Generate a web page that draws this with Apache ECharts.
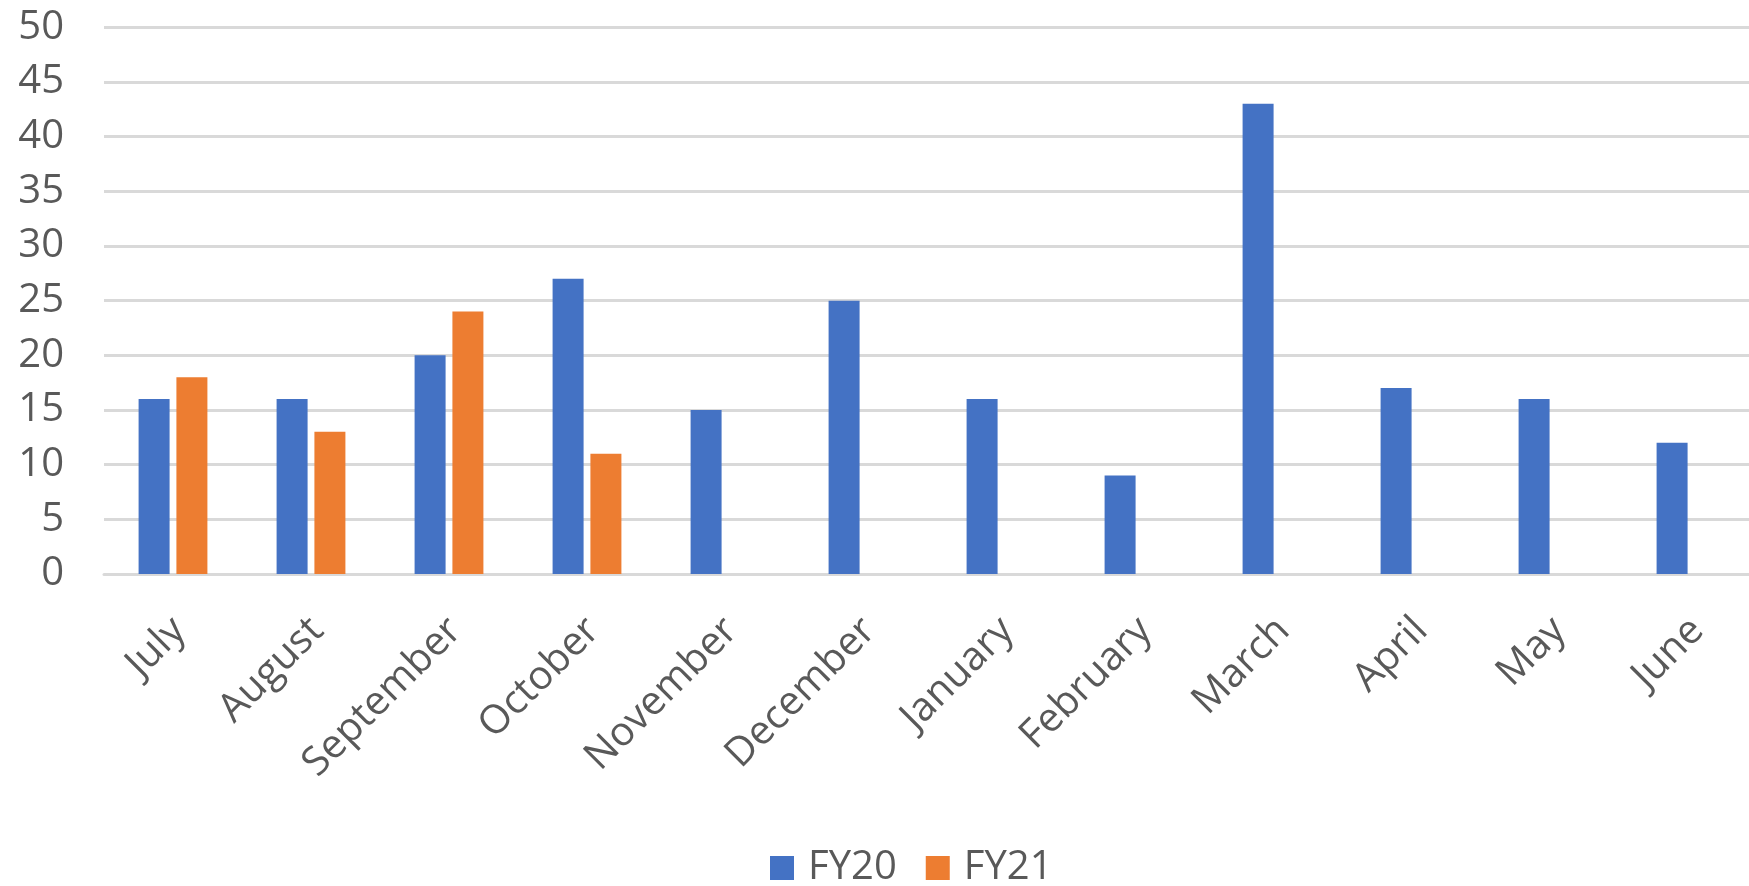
<!DOCTYPE html>
<html>
<head>
<meta charset="utf-8">
<script src="https://cdn.jsdelivr.net/npm/echarts@6/dist/echarts.min.js"></script>
<style>
html,body{margin:0;padding:0;background:#fff;}
#chart{width:1749px;height:886px;}
</style>
</head>
<body>
<div id="chart"></div>
<script>
const months = ["July","August","September","October","November","December","January","February","March","April","May","June"];
const fy20 = [16,16,20,27,15,25,16,9,43,17,16,12];
const fy21 = [18,13,24,11,null,null,null,null,null,null,null,null];
const yTicks = {min:0, max:50, interval:5};

const chart = echarts.init(document.getElementById('chart'), null, {renderer:'canvas'});
const font = '"Open Sans", "Liberation Sans", sans-serif';
chart.setOption({
  animation:false,
  backgroundColor:'#ffffff',
  textStyle:{fontFamily:font},
  grid:{left:104, top:27.3, width:1656, height:546.7, containLabel:false, outerBoundsMode:'none'},
  legend:{
    data:['FY20','FY21'],
    left:765, top:843,
    itemWidth:24, itemHeight:24, itemGap:29,
    icon:'rect',
    textStyle:{fontFamily:font, fontSize:40, color:'#595959', lineHeight:40, padding:[0,0,0,9]}
  },
  xAxis:{
    type:'category',
    data:months,
    axisLine:{show:true, lineStyle:{color:'#d9d9d9', width:3}},
    axisTick:{show:false},
    axisLabel:{rotate:45, interval:0, fontFamily:font, fontSize:40, color:'#595959', margin:44, verticalAlign:'top', lineHeight:18}
  },
  yAxis:{
    type:'value',
    min:yTicks.min, max:yTicks.max, interval:yTicks.interval,
    axisLine:{show:false},
    axisTick:{show:false},
    splitLine:{lineStyle:{color:'#d9d9d9', width:3}},
    axisLabel:{fontFamily:font, fontSize:40, color:'#595959', margin:40}
  },
  series:[
    {name:'FY20', type:'bar', data:fy20, barWidth:31, barGap:'22%', itemStyle:{color:'#4472C4'}},
    {name:'FY21', type:'bar', data:fy21, barWidth:31, itemStyle:{color:'#ED7D31'}}
  ]
});
</script>
</body>
</html>
